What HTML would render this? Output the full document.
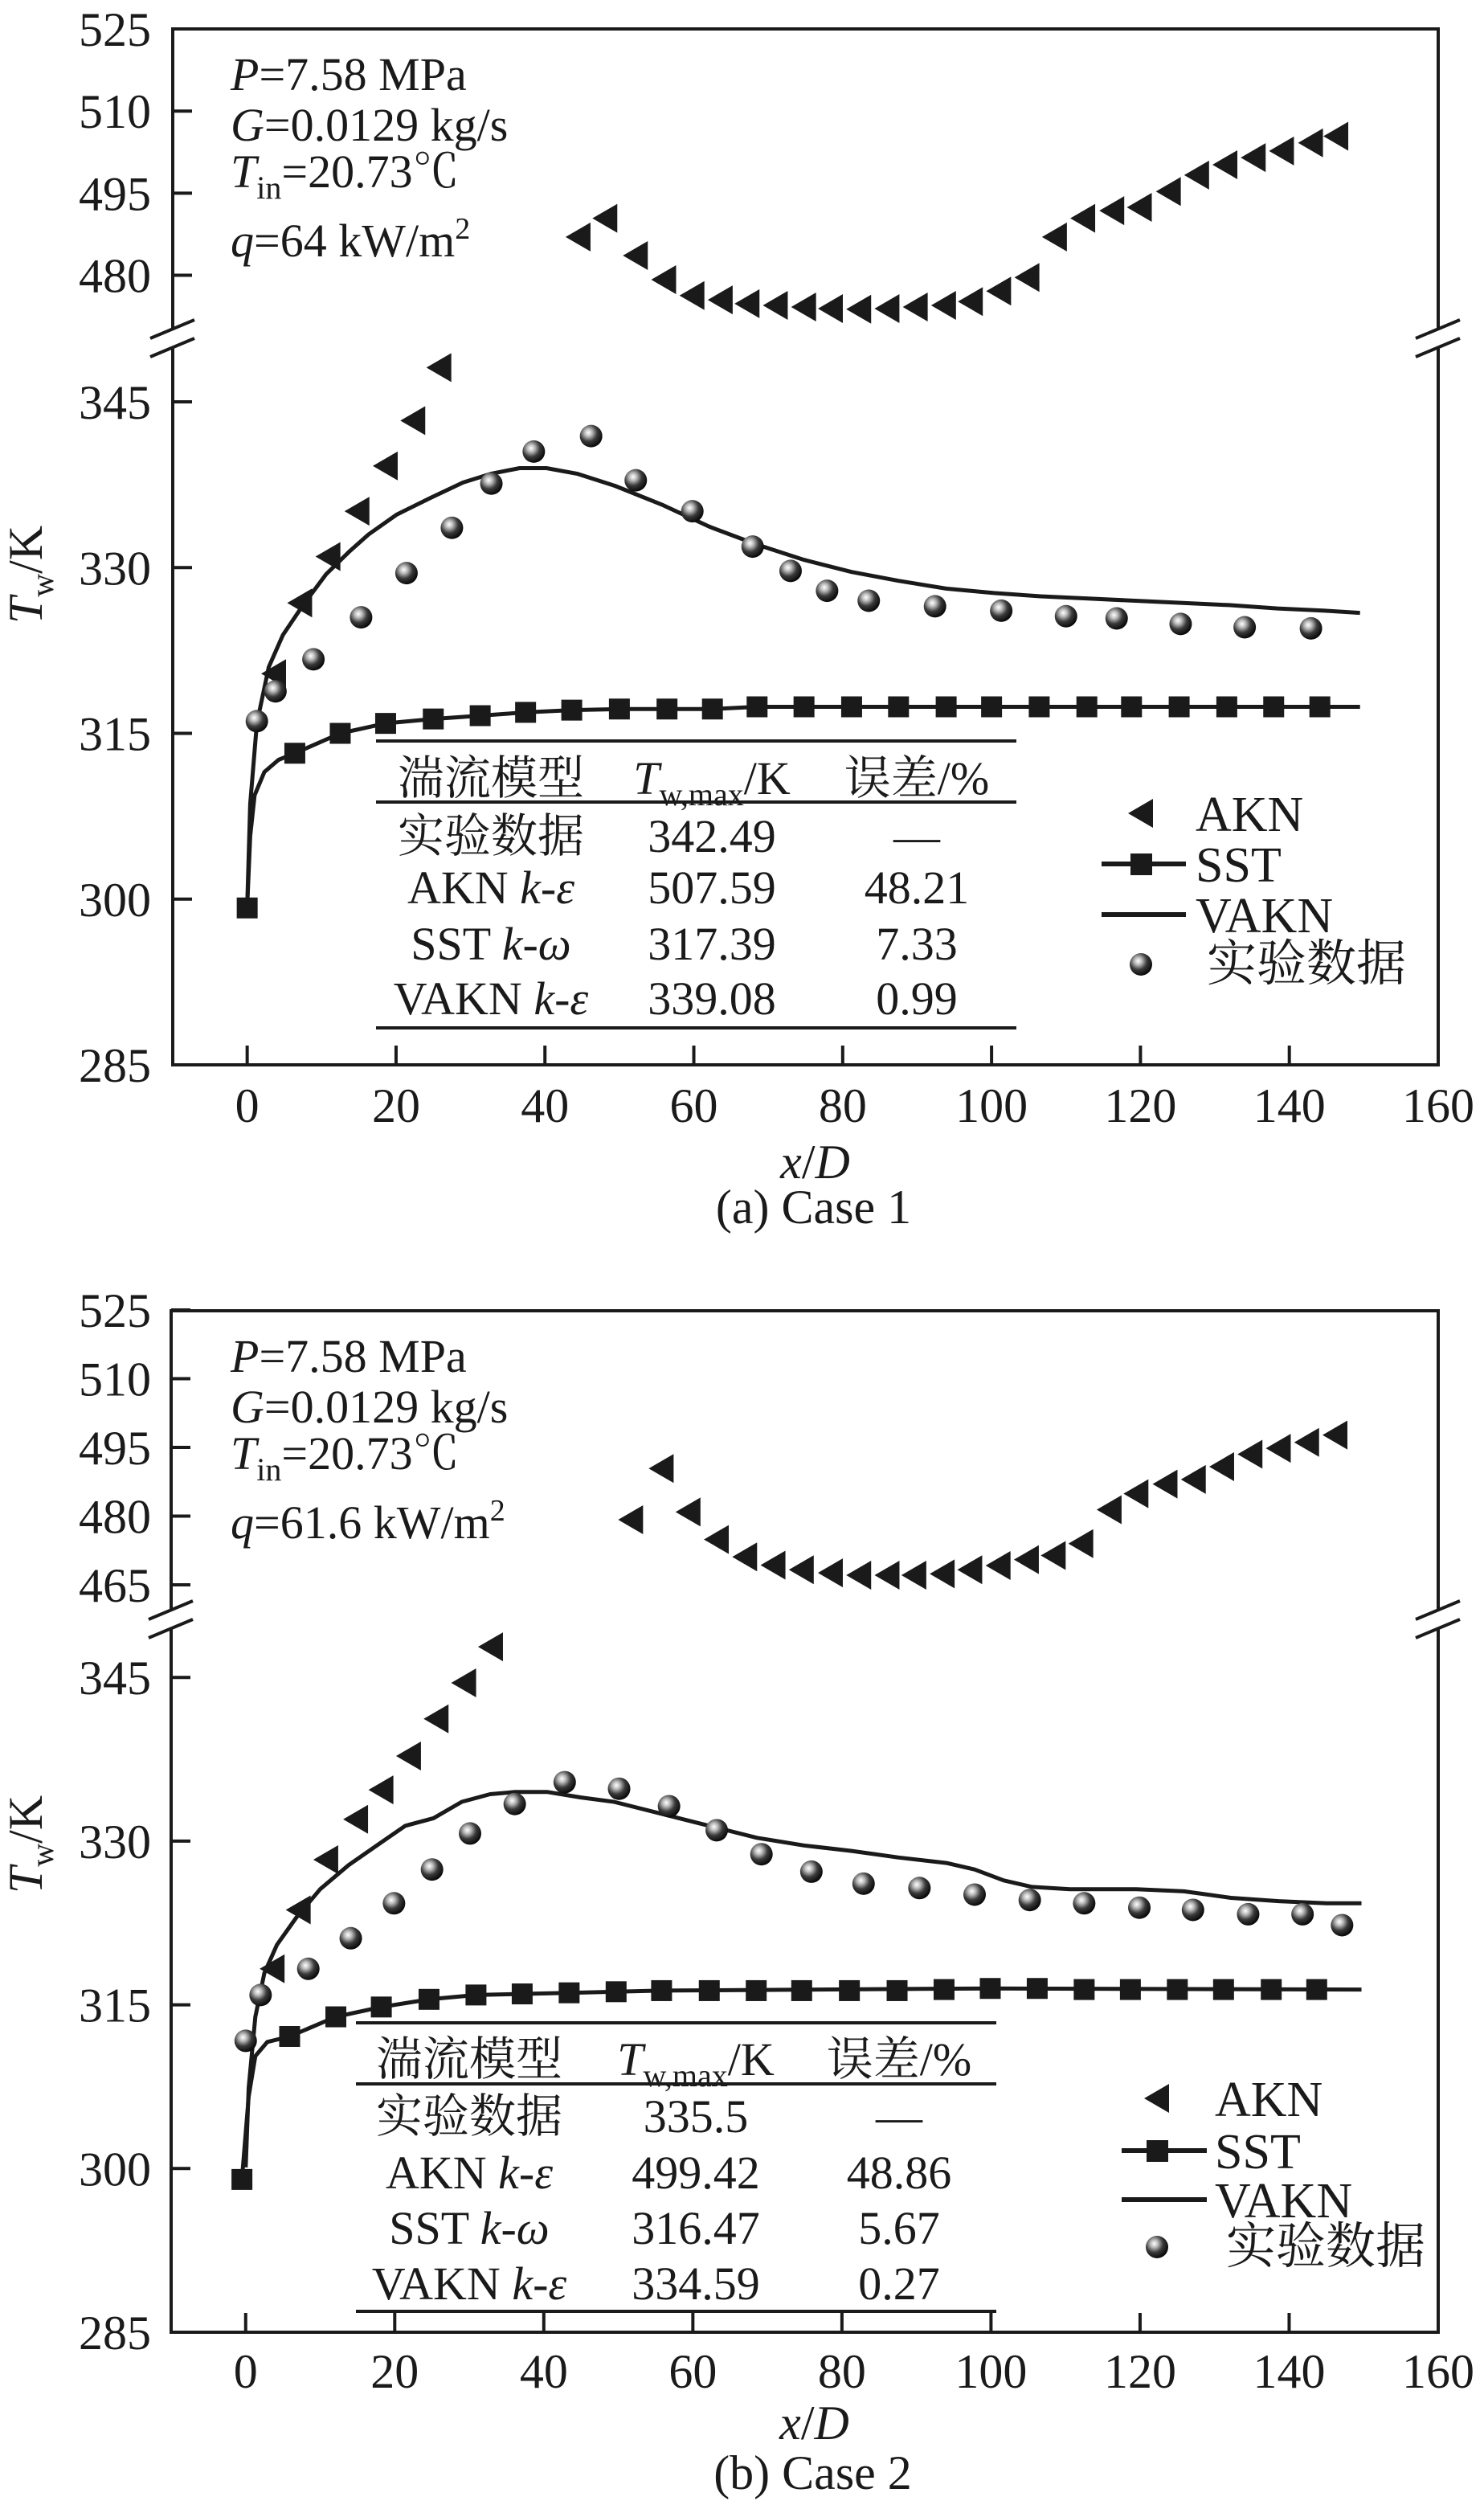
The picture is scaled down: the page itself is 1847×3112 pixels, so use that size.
<!DOCTYPE html>
<html><head><meta charset="utf-8"><style>
html,body{margin:0;padding:0;background:#fff;}
svg{display:block;}
text{font-family:"Liberation Serif","Noto Serif CJK SC","Noto Sans CJK SC",serif;fill:#1a1a1a;}
</style></head>
<body>
<svg id="chart" width="1847" height="3112" viewBox="0 0 1847 3112" xmlns="http://www.w3.org/2000/svg">
<defs>
<radialGradient id="sph" cx="0.38" cy="0.35" r="0.65">
<stop offset="0" stop-color="#ffffff"/><stop offset="0.25" stop-color="#bdbdbd"/><stop offset="0.6" stop-color="#3a3a3a"/><stop offset="1" stop-color="#0a0a0a"/>
</radialGradient>
</defs>
</svg>
<script>
// ===== Panel (a) Case 1 data =====
const aAknX = [3.6,7.1,10.9,14.8,18.6,22.3,25.8,44.5,48.1,52.2,56.0,59.8,63.6,67.2,71.0,74.8,78.4,82.2,86.0,89.8,93.6,97.2,101.0,104.8,108.5,112.3,116.2,119.9,123.8,127.6,131.4,135.2,139.0,142.9,146.3];
const aAknT = [320.4,326.8,331.0,335.1,339.2,343.3,348.1,487.0,490.4,483.6,479.2,476.3,475.5,474.8,474.5,474.2,473.9,473.8,473.9,474.2,474.5,475.2,477.1,479.6,487.0,490.4,491.8,492.4,495.3,498.3,500.2,501.5,502.7,504.2,505.4];
const aSstX = [0,6.4,12.5,18.6,25.0,31.3,37.4,43.6,50.0,56.4,62.5,68.5,74.8,81.2,87.5,93.9,100.0,106.4,112.8,118.8,125.2,131.6,137.9,144.1];
const aSstT = [299.2,313.2,315.0,315.9,316.3,316.6,316.9,317.1,317.2,317.2,317.2,317.4,317.4,317.4,317.4,317.4,317.4,317.4,317.4,317.4,317.4,317.4,317.4,317.4];
const aSstLineX = [0,0.4,1.0,2.3,4.2,6.4,12.5,18.6,25.0,31.3,37.4,43.6,50.0,62.5,68.5,100.0,149.5];
const aSstLineT = [299.2,305.7,309.4,311.5,312.6,313.2,315.0,315.9,316.3,316.6,316.9,317.1,317.2,317.2,317.4,317.4,317.4];
const aVaknX = [0,0.4,1.3,2.9,4.8,7.4,10.6,13.8,16.3,20.1,24.6,29.0,32.8,36.6,40.2,44.3,49.4,55.7,62.1,68.4,74.8,81.2,87.5,93.9,100.3,106.6,113.0,119.3,125.7,132.1,138.4,144.8,149.5];
const aVaknT = [299.2,308.6,315.9,321.0,323.9,326.5,329.4,331.5,333.0,334.8,336.3,337.7,338.5,339.0,339.0,338.5,337.4,335.7,333.7,332.1,330.7,329.6,328.8,328.1,327.7,327.4,327.2,327.0,326.8,326.6,326.3,326.1,325.9];
const aExpX = [1.3,3.8,8.9,15.3,21.4,27.5,32.8,38.5,46.2,52.2,59.8,67.9,73.0,77.9,83.5,92.4,101.3,110.0,116.8,125.4,134.0,142.9];
const aExpT = [316.1,318.8,321.7,325.5,329.5,333.6,337.6,340.5,341.9,337.9,335.1,331.9,329.7,327.9,327.0,326.5,326.1,325.6,325.4,324.9,324.6,324.5];
const aUpperTicks = [480,495,510,525];
// ===== Panel (b) Case 2 data =====
const bAknX = [3.6,7.1,10.8,14.8,18.2,21.9,25.6,29.3,32.9,51.7,55.8,59.4,63.2,67.0,70.8,74.6,78.5,82.3,86.1,89.7,93.5,97.2,101.0,104.8,108.4,112.1,115.9,119.5,123.4,127.2,131.0,134.8,138.6,142.4,146.2];
const bAknT = [318.3,323.7,328.3,332.0,334.7,337.8,341.2,344.5,347.8,479.2,490.4,480.9,474.9,471.1,469.3,468.3,467.6,467.1,467.1,467.1,467.4,468.3,469.2,470.5,471.4,474.0,481.4,484.9,487.0,488.0,490.8,493.5,494.8,496.1,497.7];
const bSstX = [-0.5,5.9,12.1,18.2,24.6,30.9,37.1,43.4,49.7,55.8,62.2,68.5,74.6,81.0,87.4,93.7,99.9,106.2,112.5,118.7,125.0,131.2,137.6,143.7];
const bSstT = [299.0,312.1,313.9,314.8,315.5,315.9,316.0,316.1,316.2,316.3,316.3,316.3,316.3,316.3,316.3,316.4,316.5,316.5,316.4,316.4,316.4,316.4,316.4,316.4];
const bSstLineX = [-0.5,0.4,1.3,2.9,5.9,12.1,18.2,24.6,30.9,37.1,43.4,49.7,55.8,99.9,149.7];
const bSstLineT = [299.0,306.6,310.3,311.6,312.1,313.9,314.8,315.5,315.9,316.0,316.1,316.2,316.3,316.5,316.4];
const bVaknX = [0,0.4,1.3,2.5,4.2,6.8,10.0,13.8,17.6,21.4,25.2,29.0,32.8,36.1,40.5,45.0,49.4,55.8,62.2,68.6,74.9,81.3,87.6,94.0,97.8,101.7,105.5,110.6,119.5,125.9,132.2,138.6,145.0,149.7];
const bVaknT = [300.1,307.4,313.9,317.9,320.5,323.0,325.6,327.8,329.6,331.4,332.1,333.6,334.3,334.5,334.5,334.0,333.6,332.5,331.4,330.3,329.6,329.1,328.5,328.0,327.4,326.4,325.8,325.6,325.6,325.4,324.8,324.5,324.3,324.3];
const bExpX = [0,2.0,8.4,14.1,19.9,25.0,30.1,36.1,42.8,50.1,56.8,63.2,69.2,75.9,82.9,90.4,97.8,105.2,112.5,119.9,127.1,134.5,141.8,147.1];
const bExpT = [311.7,315.9,318.3,321.1,324.3,327.4,330.7,333.4,335.4,334.8,333.2,331.0,328.8,327.2,326.1,325.7,325.1,324.6,324.3,323.9,323.7,323.3,323.3,322.3];
const bUpperTicks = [465,480,495,510,525];
// shared
const lowerTicks = [285,300,315,330,345];
const xTicks = [0,20,40,60,80,100,120,140,160];
const tableHeader = ['湍流模型','T','误差/%'];
const aRows = [['实验数据','342.49','—'],['AKN','507.59','48.21'],['SST','317.39','7.33'],['VAKN','339.08','0.99']];
const bRows = [['实验数据','335.5','—'],['AKN','499.42','48.86'],['SST','316.47','5.67'],['VAKN','334.59','0.27']];
const rowSuffix = [null,'ε','ω','ε'];

const NS='http://www.w3.org/2000/svg';
const svg=document.getElementById('chart');
function mk(tag,attrs,parent){const e=document.createElementNS(NS,tag);for(const k in attrs)e.setAttribute(k,attrs[k]);(parent||svg).appendChild(e);return e;}

function drawPanel(P){
  const g=mk('g',{});
  
  
  const xs=v=>P.x0+(v-(-10))*(P.x1-P.x0)/170;
  const ys=t=> t>400 ? P.upRefY-(t-P.upRefT)*P.kUp : P.bot-(t-285)*P.kLo;
  // frame
  const fr=mk('g',{stroke:'#1a1a1a','stroke-width':4,fill:'none'},g);
  
  
  mk('line',{x1:P.x0-2,y1:P.top,x2:P.x1+2,y2:P.top},fr);
  mk('line',{x1:P.x0-2,y1:P.bot,x2:P.x1+2,y2:P.bot},fr);
  [P.x0,P.x1].forEach(x=>{
    mk('line',{x1:x,y1:P.top,x2:x,y2:P.brk-11},fr);
    mk('line',{x1:x,y1:P.brk+11,x2:x,y2:P.bot},fr);
    mk('line',{x1:x-28,y1:P.brk,x2:x+27,y2:P.brk-23},fr);
    mk('line',{x1:x-28,y1:P.brk+23,x2:x+27,y2:P.brk},fr);
  });
  // y ticks
  P.upTicks.concat(lowerTicks).forEach(t=>{
    const y=ys(t);
    const tk=mk('line',{x1:P.x0,y1:y,x2:P.x0+24,y2:y,stroke:'#1a1a1a','stroke-width':4},g);
    
    
    const tl=mk('text',{x:188,y:y+21,'text-anchor':'end','font-size':60},g);
    
    
    tl.textContent=t;
  });
  xTicks.forEach(v=>{
    const x=xs(v);
    const tk=mk('line',{x1:x,y1:P.bot,x2:x,y2:P.bot-24,stroke:'#1a1a1a','stroke-width':4},g);
    
    
    const tl=mk('text',{x:x,y:P.xlabY,'text-anchor':'middle','font-size':60},g);
    
    
    tl.textContent=v;
  });
  // axis titles
  const xt=mk('text',{x:(P.x0+P.x1)/2+12,y:P.xtitY,'text-anchor':'middle','font-size':60},g);
  
  
  xt.innerHTML='<tspan font-style="italic">x</tspan>/<tspan font-style="italic">D</tspan>';
  const cap=mk('text',{x:(P.x0+P.x1)/2+10,y:P.capY,'text-anchor':'middle','font-size':60},g);
  
  
  cap.textContent=P.caption;
  const yt=mk('text',{x:0,y:0,'text-anchor':'middle','font-size':60,transform:`translate(52,${P.ytitY}) rotate(-90)`},g);
  
  
  yt.innerHTML='<tspan font-style="italic">T</tspan><tspan font-size="40" dy="14">w</tspan><tspan dy="-14">/K</tspan>';
  // annotation
  const an=mk('g',{'font-size':58},g);
  
  
  const ax=287, ay=P.top;
  mk('text',{x:ax,y:ay+76},an).innerHTML='<tspan font-style="italic">P</tspan>=7.58 MPa';
  mk('text',{x:ax,y:ay+139},an).innerHTML='<tspan font-style="italic">G</tspan>=0.0129 kg/s';
  mk('text',{x:ax,y:ay+197},an).innerHTML='<tspan font-style="italic">T</tspan><tspan font-size="40" dy="14">in</tspan><tspan dy="-14">=20.73℃</tspan>';
  mk('text',{x:ax,y:ay+283},an).innerHTML='<tspan font-style="italic">q</tspan>='+P.q+' kW/m<tspan font-size="38" dy="-22">2</tspan>';
  // series: VAKN line
  let d='';P.vX.forEach((v,i)=>{d+=(i?'L':'M')+xs(v).toFixed(1)+','+ys(P.vT[i]).toFixed(1);});
  const vl=mk('path',{d:d,fill:'none',stroke:'#1a1a1a','stroke-width':5,'stroke-linejoin':'round'},g);
  
  
  // SST line + markers
  d='';P.sLX.forEach((v,i)=>{d+=(i?'L':'M')+xs(v).toFixed(1)+','+ys(P.sLT[i]).toFixed(1);});
  const sl=mk('path',{d:d,fill:'none',stroke:'#1a1a1a','stroke-width':5,'stroke-linejoin':'round'},g);
  
  
  P.sX.forEach((v,i)=>{
    const x=xs(v),y=ys(P.sT[i]);
    const r=mk('rect',{x:x-13,y:y-13,width:26,height:26,fill:'#1a1a1a'},g);
    
    
  });
  // AKN triangles
  P.aX.forEach((v,i)=>{
    const x=xs(v),y=ys(P.aT[i]);
    const t=mk('polygon',{points:`${x-16},${y} ${x+15},${y-18} ${x+15},${y+18}`,fill:'#1a1a1a'},g);
    
    
  });
  // experiment spheres
  P.eX.forEach((v,i)=>{
    const c=mk('circle',{cx:xs(v),cy:ys(P.eT[i]),r:14,fill:'url(#sph)'},g);
    
    
  });
  // table
  const tb=mk('g',{'font-size':58},g);
  
  
  const T=P.tab;
  [T.top,T.hl,T.bl].forEach(y=>mk('line',{x1:T.x0,y1:y,x2:T.x1,y2:y,stroke:'#1a1a1a','stroke-width':4},tb));
  const h1=mk('text',{x:T.c1,y:T.hy,'text-anchor':'middle'},tb);h1.textContent=tableHeader[0];
  mk('text',{x:T.c2,y:T.hy,'text-anchor':'middle'},tb).innerHTML='<tspan font-style="italic">T</tspan><tspan font-size="40" dy="14">w,max</tspan><tspan dy="-14">/K</tspan>';
  mk('text',{x:T.c3,y:T.hy,'text-anchor':'middle'},tb).textContent=tableHeader[2];
  P.rows.forEach((r,i)=>{
    const y=T.ry[i];
    const t1=mk('text',{x:T.c1,y:y,'text-anchor':'middle'},tb);
    if(rowSuffix[i]) t1.innerHTML=r[0]+' <tspan font-style="italic">k</tspan>-<tspan font-style="italic">'+rowSuffix[i]+'</tspan>';
    else t1.textContent=r[0];
    mk('text',{x:T.c2,y:y,'text-anchor':'middle'},tb).textContent=r[1];
    mk('text',{x:T.c3,y:y,'text-anchor':'middle'},tb).textContent=r[2];
  });
  // legend
  const L=P.leg;
  const lg=mk('g',{'font-size':62},g);
  
  
  const e1=mk('g',{},lg);
  mk('polygon',{points:`${L.mx-16},${L.y[0]} ${L.mx+15},${L.y[0]-18} ${L.mx+15},${L.y[0]+18}`,fill:'#1a1a1a'},e1);
  mk('text',{x:L.tx,y:L.y[0]+22},e1).textContent='AKN';
  const e2=mk('g',{},lg);
  mk('line',{x1:L.lx0,y1:L.y[1],x2:L.lx1,y2:L.y[1],stroke:'#1a1a1a','stroke-width':6},e2);
  mk('rect',{x:L.mx-13,y:L.y[1]-13,width:27,height:27,fill:'#1a1a1a'},e2);
  mk('text',{x:L.tx,y:L.y[1]+22},e2).textContent='SST';
  const e3=mk('g',{},lg);
  mk('line',{x1:L.lx0,y1:L.y[2],x2:L.lx1,y2:L.y[2],stroke:'#1a1a1a','stroke-width':6},e3);
  mk('text',{x:L.tx,y:L.y[2]+22},e3).textContent='VAKN';
  const e4=mk('g',{},lg);
  mk('circle',{cx:L.mx,cy:L.y[3],r:14,fill:'url(#sph)'},e4);
  mk('text',{x:L.tx+14,y:L.y[3]+20},e4).textContent='实验数据';
}

drawPanel({id:'case1',x0:215,x1:1790,top:36,brk:421,bot:1325,upRefT:480,upRefY:342.5,kUp:6.81,kLo:13.75,
  upTicks:aUpperTicks,xlabY:1396,xtitY:1466,capY:1522,ytitY:715,caption:'(a) Case 1',q:'64',
  aX:aAknX,aT:aAknT,sX:aSstX,sT:aSstT,sLX:aSstLineX,sLT:aSstLineT,vX:aVaknX,vT:aVaknT,eX:aExpX,eT:aExpT,rows:aRows,
  tab:{x0:468,x1:1265,top:922,hl:998,bl:1279,hy:988,ry:[1060,1124,1194,1262],c1:611,c2:886,c3:1141},
  leg:{mx:1420,tx:1488,lx0:1371,lx1:1476,y:[1012,1075,1138,1200]}});
drawPanel({id:'case2',x0:213,x1:1790,top:1631,brk:2015,bot:2902,upRefT:465,upRefY:1972,kUp:5.7,kLo:13.58,
  upTicks:bUpperTicks,xlabY:2971,xtitY:3035,capY:3097,ytitY:2295,caption:'(b) Case 2',q:'61.6',
  aX:bAknX,aT:bAknT,sX:bSstX,sT:bSstT,sLX:bSstLineX,sLT:bSstLineT,vX:bVaknX,vT:bVaknT,eX:bExpX,eT:bExpT,rows:bRows,
  tab:{x0:443,x1:1240,top:2517,hl:2593,bl:2876,hy:2582,ry:[2653,2723,2792,2861],c1:584,c2:866,c3:1119},
  leg:{mx:1440,tx:1512,lx0:1396,lx1:1502,y:[2611,2676,2737,2796]}});
</script>
</body></html>
